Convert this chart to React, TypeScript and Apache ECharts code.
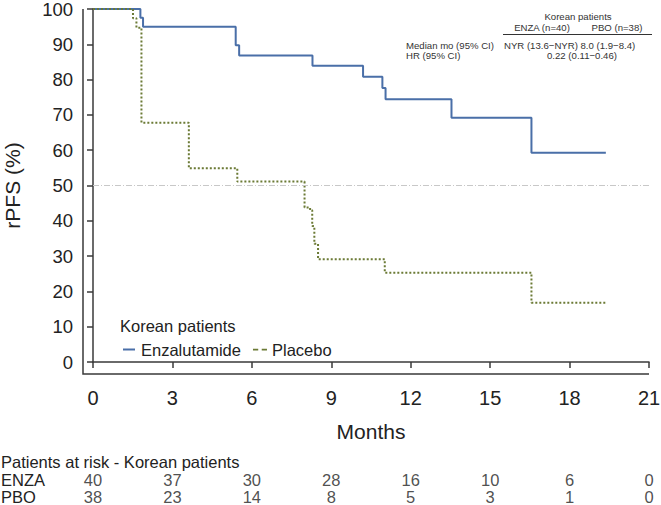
import React, { useEffect, useRef } from "react";
import * as echarts from "echarts";

const FONT = "'Liberation Sans', Arial, Helvetica, sans-serif";
const BLUE = "#4a6fa8";
const GREEN = "#6b7a35";
const AX = "#3a3a3a";
const TXT = "#222";

// Kaplan-Meier step data (months, rPFS %)
const enzaTime = [0, 1.79, 1.89, 5.39, 5.52, 8.29, 10.2, 10.93, 11.05, 13.54, 16.56, 19.37];
const enzaSurv = [100, 97.5, 95.0, 89.7, 86.8, 83.9, 80.8, 77.6, 74.4, 69.2, 59.3, 59.3];
const pboTime = [0, 1.51, 1.64, 1.83, 3.62, 5.45, 7.99, 8.2, 8.28, 8.36, 8.5, 11.02, 16.56, 19.37];
const pboSurv = [100, 97.4, 94.7, 67.8, 54.9, 51.1, 43.8, 43.0, 38.5, 33.5, 29.1, 25.3, 16.8, 16.8];

// Patients at risk
const riskTimes = [0, 3, 6, 9, 12, 15, 18, 21];
const enzaRisk = [40, 37, 30, 28, 16, 10, 6, 0];
const pboRisk = [38, 23, 14, 8, 5, 3, 1, 0];
const riskRows = ["PBO", "ENZA"];

// Summary table
const statsGroup = "Korean patients";
const statsHeads = ["ENZA (n=40)", "PBO (n=38)"];
const medianLabel = "Median mo (95% CI)";
const medianVals = ["NYR (13.6\u2212NYR)", "8.0 (1.9\u22128.4)"];
const hrLabel = "HR (95% CI)";
const hrVal = "0.22 (0.11\u22120.46)";

export default function App() {
  const ref = useRef<HTMLDivElement>(null);
  useEffect(() => {
    const chart = echarts.init(ref.current!, null, { renderer: "svg" });
    const txt = (text: string, x: number, y: number, size: number, align = "left", fill = TXT) => ({
      type: "text",
      x,
      y,
      silent: true,
      style: { text, fontSize: size, fontFamily: FONT, fill, align, verticalAlign: "middle" },
    });
    const riskLabel = {
      show: true,
      position: "inside",
      formatter: (p: any) => String(p.value[2]),
      fontSize: 16.5,
      color: TXT,
      fontFamily: FONT,
    };
    const option: any = {
      animation: false,
      textStyle: { fontFamily: FONT },
      grid: [
        { left: 93, right: 12, top: 9, bottom: 143, outerBoundsMode: "none", containLabel: false },
        { left: 93, right: 12, top: 471, bottom: 0, outerBoundsMode: "none", containLabel: false },
      ],
      xAxis: [
        {
          type: "value",
          gridIndex: 0,
          min: 0,
          max: 21,
          interval: 3,
          offset: 12,
          axisLine: { show: true, lineStyle: { color: AX, width: 1.5 } },
          axisTick: { show: true, length: 6, lineStyle: { color: AX, width: 1.5 } },
          axisLabel: { fontSize: 20, color: TXT, margin: 14, fontFamily: FONT },
          splitLine: { show: false },
          name: "Months",
          nameLocation: "middle",
          nameGap: 47,
          nameTextStyle: { fontSize: 21, color: TXT, fontFamily: FONT },
        },
        { type: "value", gridIndex: 1, min: 0, max: 21, show: false },
      ],
      yAxis: [
        {
          type: "value",
          gridIndex: 0,
          min: 0,
          max: 100,
          interval: 10,
          offset: 10,
          axisLine: { show: true, lineStyle: { color: AX, width: 1.5 } },
          axisTick: { show: true, length: 6, lineStyle: { color: AX, width: 1.5 } },
          axisLabel: { fontSize: 18.5, lineHeight: 16, color: TXT, margin: 10, fontFamily: FONT },
          splitLine: { show: false },
          name: "rPFS (%)",
          nameLocation: "middle",
          nameGap: 60,
          nameTextStyle: { fontSize: 21, color: TXT, fontFamily: FONT },
        },
        {
          type: "category",
          gridIndex: 1,
          data: riskRows,
          axisLine: { show: false },
          axisTick: { show: false },
          axisLabel: { interval: 0, align: "left", margin: 92, fontSize: 16.5, color: TXT, fontFamily: FONT },
        },
      ],
      legend: {
        data: [
          { name: "Enzalutamide", icon: "path://M0,0H12V2H0Z", itemStyle: { color: BLUE } },
          { name: "Placebo", icon: "path://M0,0H6V2H0Z M10,0H16V2H10Z", itemStyle: { color: GREEN } },
        ],
        left: 118,
        top: 336,
        itemWidth: 14,
        itemHeight: 2,
        itemGap: 12,
        textStyle: { fontSize: 16.5, color: TXT, fontFamily: FONT },
      },
      series: [
        {
          name: "Enzalutamide",
          type: "line",
          step: "end",
          data: enzaTime.map((t, i) => [t, enzaSurv[i]]),
          symbol: "none",
          lineStyle: { color: BLUE, width: 2 },
          itemStyle: { color: BLUE },
          markLine: {
            silent: true,
            symbol: "none",
            label: { show: false },
            lineStyle: { color: "#c8c8c8", width: 1, type: [6, 2, 1, 2] },
            data: [{ yAxis: 50 }],
          },
          z: 3,
        },
        {
          name: "Placebo",
          type: "line",
          step: "end",
          data: pboTime.map((t, i) => [t, pboSurv[i]]),
          symbol: "none",
          lineStyle: { color: GREEN, width: 2, type: [2, 2] },
          itemStyle: { color: GREEN },
          z: 3,
        },
        {
          type: "scatter",
          xAxisIndex: 1,
          yAxisIndex: 1,
          data: riskTimes.map((t, i) => [t, "ENZA", enzaRisk[i]]),
          symbolSize: 1,
          itemStyle: { color: "rgba(0,0,0,0)" },
          label: riskLabel,
        },
        {
          type: "scatter",
          xAxisIndex: 1,
          yAxisIndex: 1,
          data: riskTimes.map((t, i) => [t, "PBO", pboRisk[i]]),
          symbolSize: 1,
          itemStyle: { color: "rgba(0,0,0,0)" },
          label: riskLabel,
        },
      ],
      graphic: [
        {
          type: "polyline",
          silent: true,
          shape: { points: [[83, 9], [83, 374], [649, 374]] },
          style: { stroke: AX, lineWidth: 1.5, fill: null },
        },
        txt("Patients at risk - Korean patients", 1, 462, 16.5),
        txt("Korean patients", 120, 326, 16.5),
        txt(statsGroup, 578, 16, 9.6, "center", "#333"),
        txt(statsHeads[0], 542, 27.5, 9.6, "center", "#333"),
        txt(statsHeads[1], 617, 27.5, 9.6, "center", "#333"),
        {
          type: "line",
          silent: true,
          shape: { x1: 503, y1: 34.5, x2: 652, y2: 34.5 },
          style: { stroke: "#333", lineWidth: 1 },
        },
        txt(medianLabel, 406, 45, 9.6, "left", "#333"),
        txt(medianVals.join(" "), 504, 45, 9.6, "left", "#333"),
        txt(hrLabel, 406, 55.5, 9.6, "left", "#333"),
        txt(hrVal, 582, 55.5, 9.6, "center", "#333"),
      ],
    };
    chart.setOption(option);
    return () => chart.dispose();
  }, []);
  return <div ref={ref} style={{ position: "absolute", left: 0, top: 0, width: 661, height: 505 }} />;
}
